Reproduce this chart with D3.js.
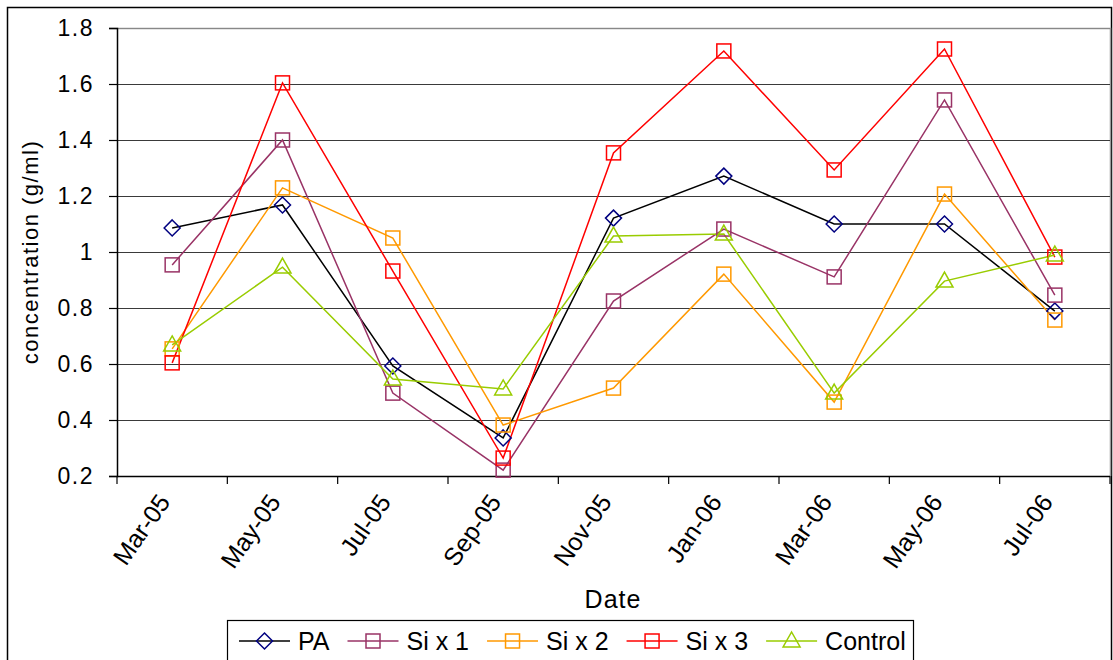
<!DOCTYPE html>
<html><head><meta charset="utf-8">
<script src="https://cdn.jsdelivr.net/npm/d3@7"></script>
<style>body{margin:0;background:#fff}svg{display:block;font-family:"Liberation Sans",Arial,sans-serif}</style>
</head><body><svg id="c" width="1113" height="660"></svg>
<script>
const categories = ["Mar-05","May-05","Jul-05","Sep-05","Nov-05","Jan-06","Mar-06","May-06","Jul-06"];
const yTicks = [0.2,0.4,0.6,0.8,1,1.2,1.4,1.6,1.8];
const paValues      = [1.086,1.168,0.593,0.336,1.121,1.271,1.100,1.100,0.789];
const six1Values    = [0.954,1.400,0.496,0.221,0.825,1.082,0.911,1.543,0.846];
const six2Values    = [0.654,1.229,1.050,0.382,0.514,0.921,0.464,1.207,0.757];
const six3Values    = [0.604,1.604,0.932,0.264,1.354,1.718,1.293,1.725,0.982];
const controlValues = [0.668,0.946,0.546,0.511,1.057,1.064,0.496,0.896,0.989];

const series = [
  {name:"PA", values:paValues, line:"#000000", mark:"#000080", shape:"diamond"},
  {name:"Si x 1", values:six1Values, line:"#993366", mark:"#993366", shape:"square"},
  {name:"Si x 2", values:six2Values, line:"#FF9900", mark:"#FF9900", shape:"square"},
  {name:"Si x 3", values:six3Values, line:"#FF0000", mark:"#FF0000", shape:"square"},
  {name:"Control", values:controlValues, line:"#99CC00", mark:"#99CC00", shape:"triangle"}
];

const svg = d3.select("#c");
const L=117, R=1110, T=28, B=476;

// outer frame
svg.append("rect").attr("x",7.5).attr("y",7.5).attr("width",1104).attr("height",660).attr("fill","none").attr("stroke","#000").attr("stroke-width",1.5);

const x = d3.scaleBand().domain(categories).range([L,R]);
const y = d3.scaleLinear().domain([0.2,1.8]).range([B,T]);

// plot border (top/right)
svg.append("path").attr("d",`M${L},${T+0.5}H${R+0.5}V${B}`).attr("fill","none").attr("stroke","#999").attr("stroke-width",1.5);

// gridlines
svg.append("g").selectAll("line").data(yTicks.filter(d=>d>0.2 && d<1.8)).join("line")
  .attr("x1",L).attr("x2",R).attr("y1",d=>Math.round(y(d))+0.5).attr("y2",d=>Math.round(y(d))+0.5)
  .attr("stroke","#3a3a3a").attr("stroke-width",1.2);
svg.append("line").attr("x1",L).attr("x2",R).attr("y1",T+0.5).attr("y2",T+0.5).attr("stroke","#888").attr("stroke-width",1.2);

// y axis
const ya = svg.append("g").attr("transform",`translate(${L},0)`)
  .call(d3.axisLeft(y).tickValues(yTicks).tickSize(8).tickPadding(15).tickFormat(d=>d3.format("")(d)));
ya.attr("font-size",null).attr("font-family",null);
ya.select(".domain").attr("stroke","#000").attr("stroke-width",1.5);
ya.selectAll(".tick line").attr("stroke","#000").attr("stroke-width",1.2);
ya.selectAll(".tick text").style("font-size","23px").style("letter-spacing","1.5px").attr("fill","#000");

// x axis
const xa = svg.append("g").attr("transform",`translate(0,${B})`);
xa.append("line").attr("x1",L).attr("x2",R).attr("y1",0.5).attr("y2",0.5).attr("stroke","#000").attr("stroke-width",1.5);
const boundaries = categories.map(c=>x(c)).concat([R]);
xa.selectAll("line.tk").data(boundaries).join("line").attr("class","tk")
  .attr("x1",d=>d).attr("x2",d=>d).attr("y1",0).attr("y2",8).attr("stroke","#000").attr("stroke-width",1.2);
xa.selectAll("text").data(categories).join("text")
  .attr("transform",c=>`translate(${x(c)+x.bandwidth()/2-8},${21}) rotate(-55)`)
  .attr("text-anchor","end").style("font-size","25px").attr("dy","0.35em").text(c=>c);

// axis titles
svg.append("text").attr("transform","translate(38,252) rotate(-90)").attr("text-anchor","middle")
  .style("font-size","22px").style("letter-spacing","1.5px").text("concentration (g/ml)");
svg.append("text").attr("x",613).attr("y",608).attr("text-anchor","middle").style("font-size","25px").style("letter-spacing","1px").text("Date");

const cx = c=>x(c)+x.bandwidth()/2;

function marker(g, shape, color){
  if(shape==="square") g.append("rect").attr("x",-7).attr("y",-7).attr("width",14).attr("height",14);
  else if(shape==="diamond") g.append("path").attr("d","M0,-8L8,0L0,8L-8,0Z");
  else g.append("path").attr("d","M0,-9L8.5,6L-8.5,6Z");
  g.selectAll("*").attr("fill","none").attr("stroke",color).attr("stroke-width",1.5);
}

const line = d3.line().x((d,i)=>cx(categories[i])).y(d=>y(d));
series.forEach(s=>{
  svg.append("path").attr("d",line(s.values)).attr("fill","none").attr("stroke",s.line).attr("stroke-width",1.5);
});
series.forEach(s=>{
  s.values.forEach((v,i)=>{
    const g = svg.append("g").attr("transform",`translate(${cx(categories[i])},${y(v)})`);
    marker(g,s.shape,s.mark);
  });
});

// legend
const lg = svg.append("g");
lg.append("rect").attr("x",227.5).attr("y",620.5).attr("width",686).attr("height",50).attr("fill","#fff").attr("stroke","#000").attr("stroke-width",1.2);
let lx = 239; const ly = 641;
series.forEach(s=>{
  lg.append("line").attr("x1",lx).attr("x2",lx+51).attr("y1",ly).attr("y2",ly).attr("stroke",s.line).attr("stroke-width",1.5);
  const g = lg.append("g").attr("transform",`translate(${lx+25.5},${ly})`);
  marker(g,s.shape,s.mark);
  const t = lg.append("text").attr("x",lx+59).attr("y",ly+9).style("font-size","25px").text(s.name);
  lx = lx + 59 + t.node().getComputedTextLength() + 18;
});
</script></body></html>
